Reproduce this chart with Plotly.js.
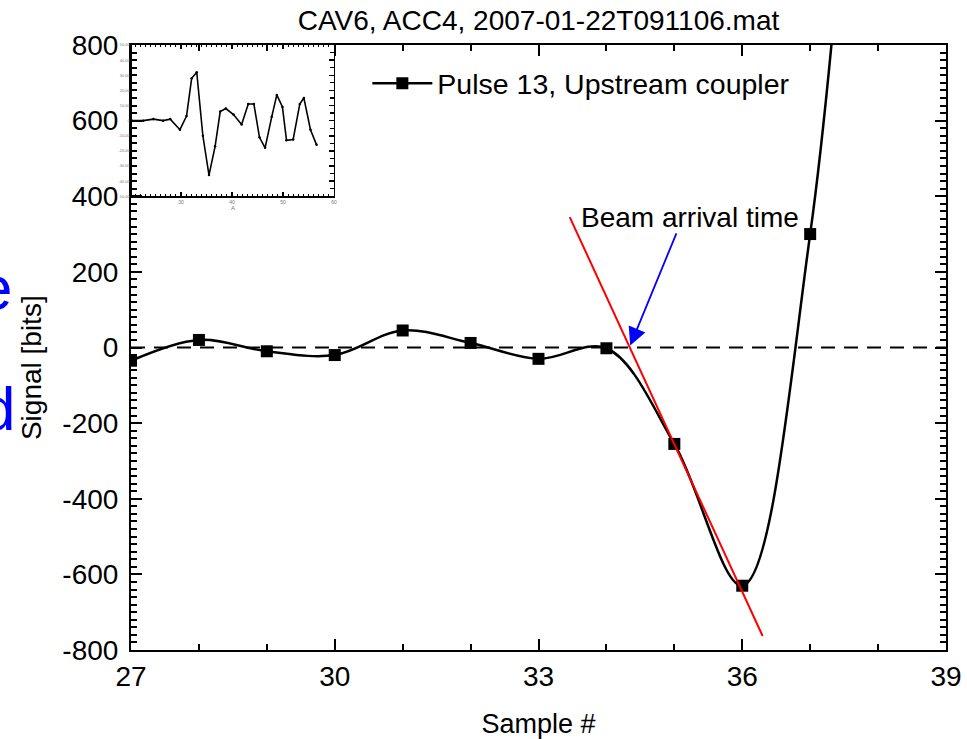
<!DOCTYPE html>
<html>
<head>
<meta charset="utf-8">
<script src="https://cdn.plot.ly/plotly-3.0.1.min.js"></script>
<style>html,body{margin:0;padding:0;background:#fff;}#chart{width:967px;height:739px;}</style>
</head>
<body>
<div id="chart"></div>
<script>
// ---- Main series: Pulse 13, Upstream coupler ----
var sampleX = [27, 28, 29, 30, 31, 32, 33, 34, 35, 36, 37, 38];
var signalY = [-35, 20, -10, -20, 45, 12, -30, -2, -255, -630, 300, 2400];

// ---- Axis ticks ----
var xTickVals = [27, 30, 33, 36, 39];
var yTickVals = [-800, -600, -400, -200, 0, 200, 400, 600, 800];
var yTickText = ["-800", "-600", "-400", "-200", "0", "200", "400", "600", "800"];
var xMinorStep = 1;
var yMinorStep = 20;

// ---- Red tangent (fit) line end points ----
var fitX = [33.46, 36.30];
var fitY = [345, -763];

// ---- Zero reference level ----
var zeroLevel = 0;

// ---- Beam arrival time annotation ----
var arrowHead = [34.35, 5];
var arrowTail = [35.04, 306];
var beamLabelPos = [35.23, 345];

// ---- Inset waveform ----
var insetX = [20.4, 22.6, 24.6, 26.5, 27.9, 29.8, 31.1, 32.1, 33.1, 34.3, 35.5, 36.7, 37.7, 38.8, 40.3, 41.9, 43.2, 44.3, 45.4, 46.5, 47.8, 48.8, 49.9, 50.7, 52.0, 53.3, 54.1, 55.4, 56.6];
var insetY = [0, 0, 1, 0, 1, -6, 3, 28, 32, -10, -36, -17, 6, 8, 4, -2.5, 11, 11, -11, -18, 2.5, 17, 9, -13, -12.5, 11, 15, -6, -16];
var insetYTicks = [-50, -40, -30, -20, -10, 0, 10, 20, 30, 40, 50];
var insetYTickText = ["-50.00", "-40.00", "-30.00", "-20.00", "-10.00", "0", "10.00", "20.00", "30.00", "40.00", "50.00"];
var insetXTicks = [30, 40, 50, 60];
var insetYMinorStep = 5;
var insetXMinorStep = 1;

// ---- Texts ----
var titleText = "CAV6, ACC4, 2007-01-22T091106.mat";
var seriesName = "Pulse 13, Upstream coupler";
var xTitle = "Sample #";
var yTitle = "Signal [bits]";
var beamText = "Beam arrival time";

var FONT = "Liberation Sans, Arial, Helvetica, sans-serif";

var traces = [
  {
    x: sampleX, y: signalY, type: "scatter", mode: "lines+markers",
    name: seriesName,
    line: {color: "#000", width: 2.5, shape: "spline", smoothing: 1},
    marker: {symbol: "square", size: 12, color: "#000"},
    xaxis: "x", yaxis: "y", showlegend: true
  },
  {
    x: fitX, y: fitY, type: "scatter", mode: "lines",
    line: {color: "#ff0000", width: 2},
    xaxis: "x", yaxis: "y", showlegend: false, hoverinfo: "skip"
  },
  {
    x: insetX, y: insetY, type: "scatter", mode: "lines+markers",
    line: {color: "#000", width: 1.6},
    marker: {size: 2.5, color: "#000"},
    xaxis: "x2", yaxis: "y2", showlegend: false
  },
  // empty traces that only carry the minor-tick overlay axes
  {x: [], y: [], type: "scatter", mode: "lines", xaxis: "x3", yaxis: "y3", showlegend: false, hoverinfo: "skip"},
  {x: [], y: [], type: "scatter", mode: "lines", xaxis: "x4", yaxis: "y4", showlegend: false, hoverinfo: "skip"}
];

function minorAxis(base, step, t0, len, wid, extra) {
  var a = {
    range: base.range, domain: base.domain, tickmode: "linear", tick0: t0, dtick: step,
    showgrid: false, zeroline: false, showline: false, showticklabels: false,
    ticks: "inside", ticklen: len, tickwidth: wid, tickcolor: "#000", mirror: "ticks"
  };
  for (var k in extra) a[k] = extra[k];
  return a;
}

var xaxisMain = {
  domain: [0, 1], range: [27, 39], tickmode: "array", tickvals: xTickVals,
  showgrid: false, zeroline: false,
  showline: true, linecolor: "#000", linewidth: 2, mirror: "ticks",
  ticks: "inside", ticklen: 11, tickwidth: 2, tickcolor: "#000",
  tickfont: {family: FONT, size: 28, color: "#000"},
  ticklabelstandoff: 0,
  title: {text: xTitle, font: {family: FONT, size: 27, color: "#000"}, standoff: 24},
  anchor: "y"
};
var yaxisMain = {
  domain: [0, 1], range: [-800, 800], tickmode: "array", tickvals: yTickVals, ticktext: yTickText,
  showgrid: false, zeroline: false,
  showline: true, linecolor: "#000", linewidth: 2, mirror: "ticks",
  ticks: "inside", ticklen: 11, tickwidth: 2, tickcolor: "#000",
  tickfont: {family: FONT, size: 28, color: "#000"},
  ticklabelstandoff: 5,
  anchor: "x"
};
var xaxisInset = {
  domain: [0.0012, 0.249], range: [20.4, 60], tickmode: "array", tickvals: insetXTicks,
  showgrid: false, zeroline: false,
  showline: true, linecolor: "#000", linewidth: 1.5, mirror: "ticks",
  ticks: "inside", ticklen: 4, tickwidth: 1.2, tickcolor: "#000",
  tickfont: {family: FONT, size: 5, color: "#777"},
  title: {text: "A", font: {family: FONT, size: 6, color: "#777"}, standoff: 2},
  anchor: "y2"
};
var yaxisInset = {
  domain: [0.75, 1], range: [-50, 50], tickmode: "array", tickvals: insetYTicks, ticktext: insetYTickText,
  showgrid: false, zeroline: false,
  showline: true, linecolor: "#000", linewidth: 1.5, mirror: "ticks",
  ticks: "inside", ticklen: 5, tickwidth: 1.5, tickcolor: "#000",
  tickfont: {family: FONT, size: 4, color: "#777"},
  anchor: "x2"
};

var layout = {
  width: 967, height: 739,
  paper_bgcolor: "#fff", plot_bgcolor: "rgba(0,0,0,0)",
  margin: {l: 131, r: 21, t: 45, b: 89},
  font: {family: FONT, color: "#000", size: 28},
  title: {text: titleText, font: {family: FONT, size: 28, color: "#000"},
          x: 0.5, xref: "paper", y: 0.972, yref: "container", yanchor: "middle"},
  showlegend: true,
  legend: {x: 0.29, y: 0.978, xanchor: "left", yanchor: "top",
           bgcolor: "rgba(0,0,0,0)", borderwidth: 0,
           font: {family: FONT, size: 28.5, color: "#000"}, itemwidth: 60},
  xaxis: xaxisMain,
  yaxis: yaxisMain,
  xaxis2: xaxisInset,
  yaxis2: yaxisInset,
  xaxis3: minorAxis(xaxisMain, xMinorStep, 27, 6, 2, {overlaying: "x", anchor: "y3", side: "bottom"}),
  yaxis3: minorAxis(yaxisMain, yMinorStep, -800, 6, 2, {overlaying: "y", anchor: "x3", side: "left"}),
  xaxis4: minorAxis(xaxisInset, insetXMinorStep, 20, 2, 1, {overlaying: "x2", anchor: "y4", side: "bottom"}),
  yaxis4: minorAxis(yaxisInset, insetYMinorStep, -50, 3.5, 1.2, {overlaying: "y2", anchor: "x4", side: "left"}),
  shapes: [
    {type: "line", xref: "paper", yref: "y", x0: 0, x1: 1, y0: zeroLevel, y1: zeroLevel,
     line: {color: "#000", width: 2, dash: "14px,9px"}, layer: "below"}
  ],
  annotations: [
    {xref: "x", yref: "y", x: arrowHead[0], y: arrowHead[1],
     axref: "x", ayref: "y", ax: arrowTail[0], ay: arrowTail[1],
     text: "", showarrow: true, arrowhead: 2, arrowsize: 2, arrowwidth: 1.8, arrowcolor: "#0000ff"},
    {xref: "x", yref: "y", x: beamLabelPos[0], y: beamLabelPos[1], text: beamText,
     showarrow: false, xanchor: "center", yanchor: "middle",
     font: {family: FONT, size: 28, color: "#000"}},
    {xref: "paper", yref: "paper", x: 0, y: 0.466, text: yTitle, textangle: -90,
     showarrow: false, xanchor: "center", yanchor: "middle", xshift: -100,
     font: {family: FONT, size: 28, color: "#000"}},
    {xref: "paper", yref: "paper", x: 0, y: 0.60, xshift: -117, text: "e", showarrow: false,
     xanchor: "right", yanchor: "middle", font: {family: FONT, size: 62, color: "#0000ff"}},
    {xref: "paper", yref: "paper", x: 0, y: 0.40, xshift: -114, text: "d", showarrow: false,
     xanchor: "right", yanchor: "middle", font: {family: FONT, size: 62, color: "#0000ff"}}
  ]
};

Plotly.newPlot("chart", traces, layout, {displayModeBar: false, staticPlot: true});
</script>
</body>
</html>
